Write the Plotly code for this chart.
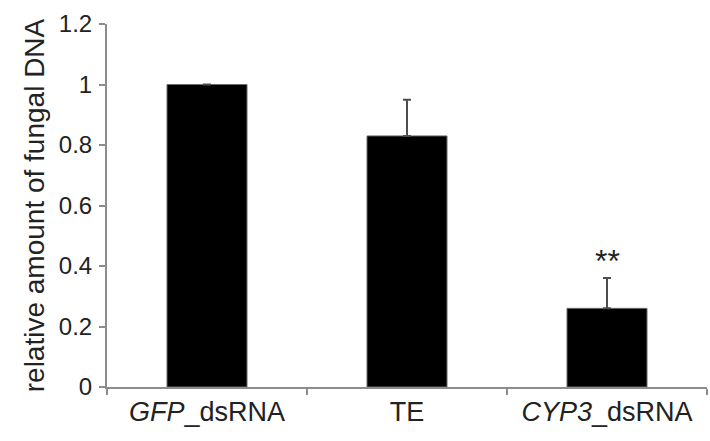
import plotly.graph_objects as go

# Relative fungal DNA per treatment (mean, upper error)
categories = ["<i>GFP</i>_dsRNA", "TE", "<i>CYP3</i>_dsRNA"]
values = [1.0, 0.83, 0.26]
errors_up = [None, 0.12, 0.10]
y_tick_vals = [0, 0.2, 0.4, 0.6, 0.8, 1.0, 1.2]
y_tick_text = ["0", "0.2", "0.4", "0.6", "0.8", "1", "1.2"]
significance = ["", "", "**"]
sig_heights = [0, 0, 0.415]

FONT = "Liberation Sans, Arial, sans-serif"

fig = go.Figure()
fig.add_trace(go.Bar(
    x=categories,
    y=values,
    marker=dict(color="#000000", line=dict(color="#6a6a6a", width=1)),
    error_y=dict(
        type="data",
        symmetric=False,
        array=errors_up,
        arrayminus=[None if e is None else 0 for e in errors_up],
        color="#4d4d4d",
        thickness=2,
        width=4,
    ),
    showlegend=False,
))

for cat, mark, h in zip(categories, significance, sig_heights):
    if mark:
        fig.add_annotation(
            x=cat, y=h, text=mark, showarrow=False,
            yanchor="middle", xanchor="center",
            font=dict(family=FONT, size=32, color="#222222"),
        )

fig.update_layout(
    width=710,
    height=441,
    margin=dict(l=107, r=3, t=24, b=54),
    paper_bgcolor="white",
    plot_bgcolor="white",
    bargap=0.6,
    font=dict(family=FONT, color="#222222"),
)

fig.update_xaxes(
    type="category",
    range=[-0.5, 2.5],
    showline=True,
    linecolor="#8c8c8c",
    linewidth=2,
    ticks="outside",
    tickson="boundaries",
    ticklen=6,
    tickcolor="#8c8c8c",
    tickwidth=2,
    tickfont=dict(family=FONT, size=27, color="#222222"),
    showgrid=False,
    zeroline=False,
)

fig.update_yaxes(
    range=[0, 1.2],
    tickvals=y_tick_vals,
    ticktext=y_tick_text,
    showline=True,
    linecolor="#8c8c8c",
    linewidth=2,
    ticks="outside",
    ticklen=6,
    tickcolor="#8c8c8c",
    tickwidth=2,
    tickfont=dict(family=FONT, size=24, color="#222222"),
    ticklabelstandoff=2,
    showgrid=False,
    zeroline=False,
    title=dict(
        text="relative amount of fungal DNA",
        font=dict(family=FONT, size=28, color="#222222"),
        standoff=6,
    ),
)

fig.write_html("out.html")
